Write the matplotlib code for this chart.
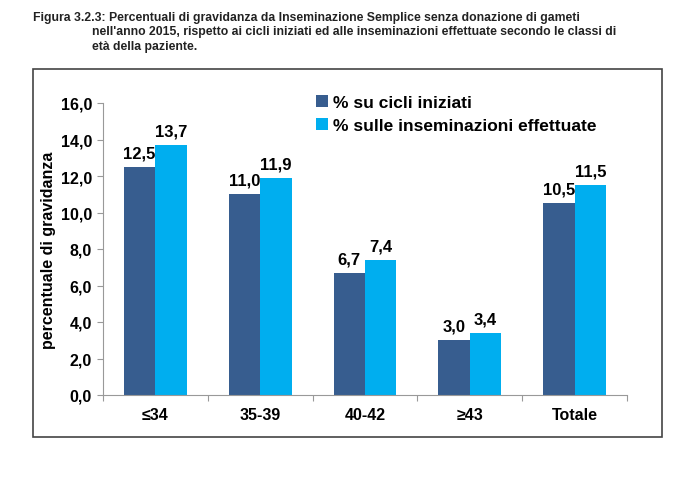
import matplotlib.pyplot as plt
from matplotlib.patches import Rectangle
import numpy as np

# Data
categories = ["≤34", "35-39", "40-42", "≥43", "Totale"]
cicli_iniziati = [12.5, 11.0, 6.7, 3.0, 10.5]
inseminazioni = [13.7, 11.9, 7.4, 3.4, 11.5]
series_names = ["% su cicli iniziati", "% sulle inseminazioni effettuate"]
yticks = [0, 2, 4, 6, 8, 10, 12, 14, 16]

dark = "#375D8F"
light = "#00AEEF"

plt.rcParams["font.family"] = ["Liberation Sans", "DejaVu Sans"]

fig = plt.figure(figsize=(6.84, 4.89), dpi=100)

# Caption
fig.text(33 / 684, 1 - 12 / 489,
         "Figura 3.2.3: Percentuali di gravidanza da Inseminazione Semplice senza donazione di gameti",
         fontsize=8.8, fontweight="bold", va="top", ha="left", color="#222222",
         family=["Liberation Sans Narrow", "Liberation Sans"])
fig.text(92 / 684, 1 - 26 / 489,
         "nell'anno 2015, rispetto ai cicli iniziati ed alle inseminazioni effettuate secondo le classi di\n"
         "età della paziente.",
         fontsize=8.8, fontweight="bold", va="top", ha="left", color="#222222",
         linespacing=1.3, family=["Liberation Sans Narrow", "Liberation Sans"])

# Outer frame
fig.patches.append(Rectangle((33 / 684, 1 - 438 / 489), (662 - 33) / 684, (438 - 70) / 489,
                             transform=fig.transFigure, fill=False,
                             edgecolor="#444444", linewidth=1.2))

ax = fig.add_axes([103 / 684, 1 - 396 / 489, (627 - 103) / 684, (396 - 104) / 489])

x = np.arange(len(categories))
w = 0.3
b1 = ax.bar(x - w / 2, cicli_iniziati, w, color=dark, label=series_names[0])
b2 = ax.bar(x + w / 2, inseminazioni, w, color=light, label=series_names[1])

for bars, vals in [(b1, cicli_iniziati), (b2, inseminazioni)]:
    for r, v in zip(bars, vals):
        ax.text(r.get_x() + r.get_width() / 2, v + 0.35, f"{v:.1f}".replace(".", ","),
                ha="center", va="bottom", fontsize=12, fontweight="bold")

ax.set_xlim(-0.5, len(categories) - 0.5)
ax.set_ylim(0, 16)
ax.set_yticks(yticks)
ax.set_yticklabels([f"{t:.1f}".replace(".", ",") for t in yticks],
                   fontsize=11.5, fontweight="bold")

# tick marks between categories, labels at centers
ax.set_xticks(np.arange(-0.5, len(categories), 1.0))
ax.set_xticklabels([])
ax.set_xticks(x, minor=True)
ax.set_xticklabels(categories, minor=True, fontsize=11.5, fontweight="bold")
ax.tick_params(axis="x", which="minor", length=0, pad=9)
ax.tick_params(axis="x", which="major", length=4, color="#999999")
ax.tick_params(axis="y", length=4, color="#999999", pad=4)

for s in ["top", "right"]:
    ax.spines[s].set_visible(False)
for s in ["left", "bottom"]:
    ax.spines[s].set_color("#999999")

ax.set_ylabel("percentuale di gravidanza", fontsize=11.5, fontweight="bold", labelpad=3)

fig.legend(handles=[b1, b2], loc="upper left", bbox_to_anchor=(300 / 684, 1 - 80 / 489),
           frameon=False, prop={"size": 12.5, "weight": "bold"},
           handlelength=0.7, handleheight=0.7, handletextpad=0.3, labelspacing=0.45)

fig.savefig("out.png", dpi=100)
